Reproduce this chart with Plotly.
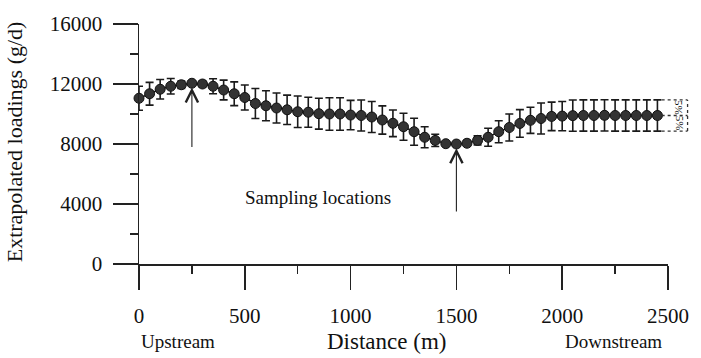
import plotly.graph_objects as go

# Distance along the stream (m)
distance = [i * 50 for i in range(50)]

# Extrapolated loadings (g/d)
loadings = [11050, 11350, 11650, 11850, 11950, 12050, 12000, 11850, 11600, 11350,
            11100, 10700, 10550, 10400, 10280, 10150, 10120, 10020, 10000, 10000,
            9930, 9900, 9800, 9600, 9380, 9150, 8820, 8450, 8240, 8020,
            8000, 8050, 8240, 8450, 8820, 9100, 9370, 9580, 9700, 9840,
            9860, 9890, 9900, 9900, 9910, 9900, 9900, 9900, 9900, 9900]

# Error (5%) half-lengths (g/d)
errors = [800, 760, 650, 520, 250, 150, 200, 500, 660, 790,
          830, 1000, 1000, 1000, 980, 1050, 1000, 1030, 1080, 1080,
          980, 1030, 1030, 940, 890, 900, 900, 700, 410, 100,
          100, 200, 300, 600, 735, 900, 920, 870, 1030, 950,
          975, 1040, 1040, 1040, 1040, 1040, 1040, 1040, 1040, 1040]

x_ticks = [0, 500, 1000, 1500, 2000, 2500]
y_ticks = [0, 4000, 8000, 12000, 16000]
sampling_locations = [250, 1500]

FONT = "Liberation Serif"
INK = "#111111"

fig = go.Figure()
fig.add_trace(go.Scatter(
    x=distance, y=loadings,
    mode="lines+markers",
    line=dict(color="#1a1a1a", width=1.5),
    marker=dict(symbol="circle", size=10, color="#333333",
                line=dict(color="#111111", width=1)),
    error_y=dict(type="data", array=errors, visible=True,
                 color="#1a1a1a", thickness=1.6, width=4),
    cliponaxis=False,
    showlegend=False,
    hoverinfo="skip",
))

annotations = []
# Arrows pointing at the sampling locations
heads = [loadings[distance.index(s)] - 280 for s in sampling_locations]
tails = [7700, 3400]
for s, h, t in zip(sampling_locations, heads, tails):
    annotations.append(dict(
        x=s, y=h, ax=s, ay=t, xref="x", yref="y", axref="x", ayref="y",
        showarrow=True, arrowhead=5, arrowsize=2.2, arrowwidth=1.1,
        arrowcolor="#222222", text=""))

annotations.append(dict(x=490, y=4420, xref="x", yref="y", text="Sampling locations",
                        showarrow=False, xanchor="left", yanchor="middle",
                        font=dict(family=FONT, size=19, color=INK)))
annotations.append(dict(x=0, y=-0.321, xref="paper", yref="paper", text="Upstream",
                        showarrow=False, xanchor="left", yanchor="middle",
                        font=dict(family=FONT, size=19, color=INK)))
annotations.append(dict(x=0.467, y=-0.321, xref="paper", yref="paper", text="Distance (m)",
                        showarrow=False, xanchor="center", yanchor="middle",
                        font=dict(family=FONT, size=23, color=INK)))
annotations.append(dict(x=0.992, y=-0.321, xref="paper", yref="paper", text="Downstream",
                        showarrow=False, xanchor="right", yanchor="middle",
                        font=dict(family=FONT, size=19, color=INK)))
annotations.append(dict(x=-0.235, y=0.51, xref="paper", yref="paper",
                        text="Extrapolated loadings (g/d)", textangle=-90,
                        showarrow=False, xanchor="center", yanchor="middle",
                        font=dict(family=FONT, size=22, color=INK)))

# 5% bracket on the right of the last point
last_v = loadings[-1]
last_e = errors[-1]
shapes = []
for yy in [last_v + last_e, last_v, last_v - last_e]:
    shapes.append(dict(type="line", xref="paper", yref="y", x0=0.988, x1=1.037,
                       y0=yy, y1=yy, line=dict(color="#333333", width=1.3, dash="dot")))
shapes.append(dict(type="line", xref="paper", yref="y", x0=1.037, x1=1.037,
                   y0=last_v - last_e, y1=last_v + last_e,
                   line=dict(color="#333333", width=1.3, dash="dot")))
for yy in [last_v + last_e / 2, last_v - last_e / 2]:
    annotations.append(dict(x=1.022, y=yy, xref="paper", yref="y", text="5%",
                            textangle=90, showarrow=False, xanchor="center",
                            yanchor="middle", font=dict(family=FONT, size=11, color=INK)))

fig.update_layout(
    width=701, height=358,
    margin=dict(l=139, r=22, t=18, b=94),
    paper_bgcolor="white", plot_bgcolor="white",
    font=dict(family=FONT, color=INK),
    annotations=annotations,
    shapes=shapes,
    hovermode=False,
    xaxis=dict(range=[0, 2500], tickvals=x_ticks, ticktext=[str(v) for v in x_ticks],
               showgrid=False, zeroline=False, showline=True, linecolor="#222222",
               linewidth=1.5, ticks="outside", ticklen=24, tickwidth=1.5,
               tickcolor="#222222", tickfont=dict(family=FONT, size=21, color=INK),
               ticklabelstandoff=8,
               minor=dict(dtick=250, ticks="outside", ticklen=8, tickwidth=1.5,
                          tickcolor="#222222", showgrid=False)),
    yaxis=dict(range=[0, 16000], tickvals=y_ticks, ticktext=[str(v) for v in y_ticks],
               showgrid=False, zeroline=False, showline=True, linecolor="#222222",
               linewidth=1.5, ticks="outside", ticklen=25, tickwidth=1.5,
               tickcolor="#222222", tickfont=dict(family=FONT, size=21, color=INK),
               ticklabelstandoff=6,
               minor=dict(dtick=2000, ticks="outside", ticklen=8, tickwidth=1.5,
                          tickcolor="#222222", showgrid=False)),
)

fig.write_html(
    "out.html",
    config={"displayModeBar": False, "staticPlot": True},
    post_script="document.body.style.margin='0';document.body.style.overflow='hidden';",
)
